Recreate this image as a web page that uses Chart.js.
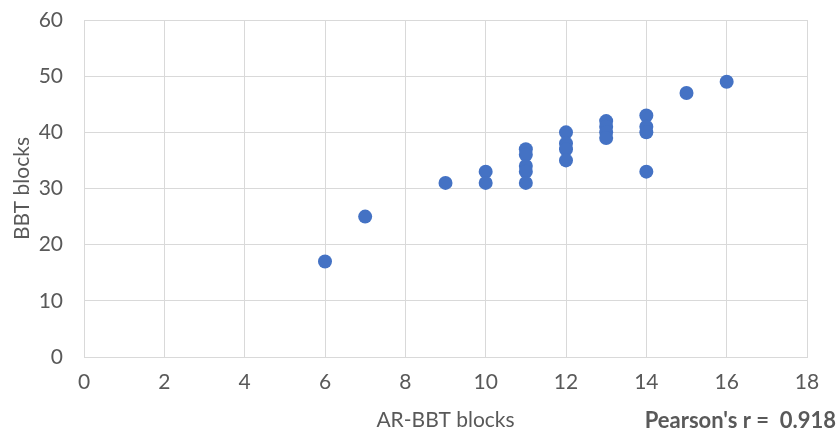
<!DOCTYPE html>
<html>
<head>
<meta charset="utf-8">
<script src="https://cdn.jsdelivr.net/npm/chart.js@4/dist/chart.umd.min.js"></script>
<style>
  html, body { margin: 0; padding: 0; background: #fff; }
  #wrap { width: 839px; height: 434px; position: relative; }
</style>
</head>
<body>
<div id="wrap"><canvas id="c" width="839" height="434"></canvas></div>
<script>
// AR-BBT block counts (x) against standard BBT block counts (y)
const arBbtBlocks = [6, 7, 9, 10, 10, 11, 11, 11, 11, 11, 12, 12, 12, 12, 13, 13, 13, 13, 14, 14, 14, 14, 15, 16];
const bbtBlocks   = [17, 25, 31, 33, 31, 37, 36, 34, 33, 31, 40, 38, 37, 35, 42, 41, 40, 39, 43, 41, 40, 33, 47, 49];
const xTicks = [0, 2, 4, 6, 8, 10, 12, 14, 16, 18];
const yTicks = [0, 10, 20, 30, 40, 50, 60];
const xTitle = 'AR-BBT blocks';
const yTitle = 'BBT blocks';
const pearsonR = 0.918;

const FONT = 'Lato, "Open Sans", sans-serif';
const TEXT = '#595959';
const GRID = '#d9d9d9';

const points = arBbtBlocks.map((x, i) => ({ x, y: bbtBlocks[i] }));

// Correlation note in the bottom-right corner
const pearsonNote = {
  id: 'pearsonNote',
  afterDraw(chart) {
    const ctx = chart.ctx;
    ctx.save();
    ctx.font = 'bold 22px ' + FONT;
    ctx.fillStyle = TEXT;
    ctx.textAlign = 'right';
    ctx.textBaseline = 'middle';
    ctx.fillText("Pearson's r =  " + pearsonR.toFixed(3), 836, 421);
    ctx.restore();
  }
};

new Chart(document.getElementById('c'), {
  type: 'scatter',
  data: {
    datasets: [{
      data: points,
      backgroundColor: '#4472c4',
      borderColor: '#4472c4',
      pointRadius: 7,
      pointHoverRadius: 7,
      borderWidth: 0
    }]
  },
  options: {
    responsive: false,
    animation: false,
    layout: { padding: { top: 20, right: 32, bottom: 0, left: 0 } },
    plugins: { legend: { display: false }, tooltip: { enabled: false } },
    scales: {
      x: {
        type: 'linear',
        min: xTicks[0],
        max: xTicks[xTicks.length - 1],
        afterBuildTicks(scale) { scale.ticks = xTicks.map(v => ({ value: v })); },
        afterFit(scale) { scale.height = 77; scale.paddingLeft = 0; scale.paddingRight = 0; },
        grid: { color: GRID, lineWidth: 1, drawTicks: false },
        border: { color: GRID, width: 1 },
        ticks: { color: TEXT, font: { family: FONT, size: 21 }, padding: 13 },
        title: {
          display: true, text: xTitle, color: TEXT,
          font: { family: FONT, size: 21 }, padding: { top: 0, bottom: 1 }
        }
      },
      y: {
        type: 'linear',
        min: yTicks[0],
        max: yTicks[yTicks.length - 1],
        afterBuildTicks(scale) { scale.ticks = yTicks.map(v => ({ value: v })); },
        afterFit(scale) { scale.width = 84; scale.paddingTop = 0; scale.paddingBottom = 0; },
        grid: { color: GRID, lineWidth: 1, drawTicks: false },
        border: { color: GRID, width: 1 },
        ticks: { color: TEXT, font: { family: FONT, size: 21 }, padding: 21 },
        title: {
          display: true, text: yTitle, color: TEXT,
          font: { family: FONT, size: 21 }, padding: { top: 10, bottom: 0 }
        }
      }
    }
  },
  plugins: [pearsonNote]
});
</script>
</body>
</html>
